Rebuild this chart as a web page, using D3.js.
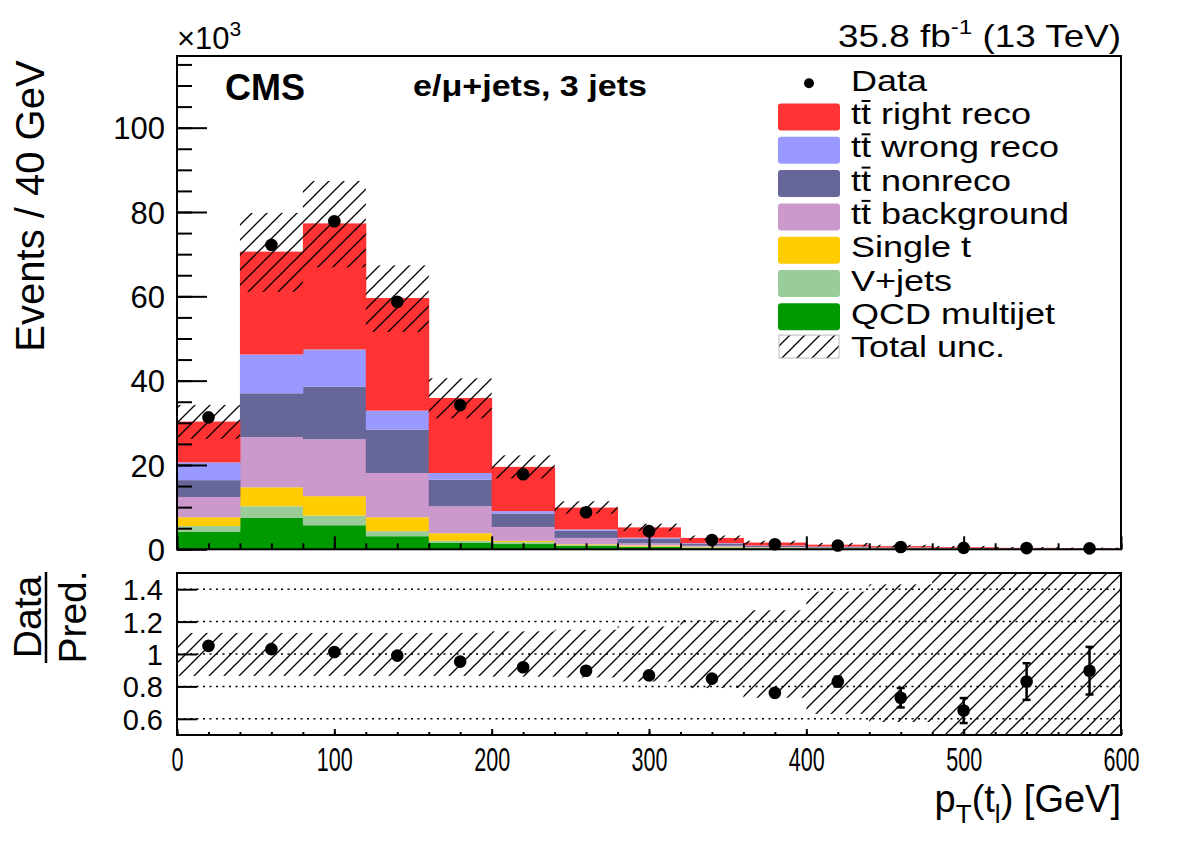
<!DOCTYPE html>
<html><head><meta charset="utf-8">
<script src="https://cdn.jsdelivr.net/npm/d3@7"></script>
<style>
html,body{margin:0;padding:0;background:#fff;}
text{font-family:"Liberation Sans",Arial,Helvetica,sans-serif;fill:#000;}
</style></head>
<body><svg id="c" width="1182" height="848"></svg>
<script>
// ---------- data ----------
const binEdges = [0,40,80,120,160,200,240,280,320,360,400,440,480,520,560,600];
const qcd      = [4.2,7.5,5.7,3.1,1.6,1.25,0.8,0.55,0.35,0.25,0.2,0.15,0.1,0.08,0.06];
const vjets    = [1.3,2.7,2.3,1.2,0.4,0.45,0.2,0.1,0.1,0.05,0.05,0.03,0.02,0.01,0.01];
const singleT  = [2.1,4.5,4.6,3.3,1.8,0.3,0.2,0.25,0.15,0.1,0.05,0.04,0.03,0.02,0.01];
const ttBkg    = [4.8,11.9,13.5,10.5,6.4,3.3,1.5,0.5,0.25,0.15,0.1,0.08,0.05,0.03,0.02];
const ttNon    = [4.0,10.4,12.5,10.3,6.3,3.2,1.7,1.1,0.5,0.3,0.2,0.12,0.08,0.06,0.04];
const ttWrong  = [4.2,9.2,8.8,4.5,1.6,0.55,0.3,0.25,0.1,0.05,0.05,0.03,0.02,0.01,0.01];
const ttRight  = [9.7,24.4,29.9,26.7,17.8,10.5,5.2,2.45,1.25,0.7,0.45,0.3,0.2,0.14,0.1];
const dataVals = [31.3,72.2,77.8,58.7,34.2,17.8,8.8,4.3,2.2,1.2,0.9,0.55,0.33,0.29,0.22];
const ratioVals= [1.05,1.03,1.012,0.99,0.953,0.918,0.897,0.868,0.848,0.76,0.83,0.73,0.651,0.83,0.897];
const ratioErr = [0.004,0.004,0.004,0.004,0.005,0.006,0.008,0.012,0.015,0.02,0.03,0.06,0.077,0.113,0.147];
const bandUp   = [1.13,1.13,1.13,1.13,1.13,1.14,1.15,1.17,1.21,1.27,1.385,1.43,1.6,1.6,1.6];
const bandDown = [0.865,0.865,0.865,0.865,0.865,0.86,0.855,0.83,0.79,0.73,0.63,0.58,0.4,0.4,0.4];
const procKeys   = ["qcd","vjets","singleT","ttBkg","ttNon","ttWrong","ttRight"];
const procColors = ["#009900","#99cc99","#ffcc00","#cc99cc","#666699","#9999ff","#ff3333"];
const xTicks = [0,100,200,300,400,500,600];
const yTicks = [0,20,40,60,80,100];
const rTicks = [0.6,0.8,1,1.2,1.4];

// ---------- setup ----------
const svg = d3.select("#c");
const L=177, R=1121, T=56, B=549.3, RT=573, RB=735;
const x = d3.scaleLinear().domain([0,600]).range([L,R]);
const y = d3.scaleLinear().domain([0,117]).range([B,T]);
const yr = d3.scaleLinear().domain([0.5,1.5]).range([RB,RT]);

const defs = svg.append("defs");
const pat = defs.append("pattern").attr("id","hatch").attr("patternUnits","userSpaceOnUse")
  .attr("width",15).attr("height",15);
pat.append("path").attr("d","M0,15 L15,0 M-4,4 L4,-4 M11,19 L19,11")
  .attr("stroke","#000").attr("stroke-width",1.3);
defs.append("clipPath").attr("id","clipMain").append("rect").attr("x",L).attr("y",T).attr("width",R-L).attr("height",B-T);
defs.append("clipPath").attr("id","clipRatio").append("rect").attr("x",L).attr("y",RT).attr("width",R-L).attr("height",RB-RT);

// stack
const rows = dataVals.map((d,i)=>({i, qcd:qcd[i], vjets:vjets[i], singleT:singleT[i], ttBkg:ttBkg[i], ttNon:ttNon[i], ttWrong:ttWrong[i], ttRight:ttRight[i]}));
const stacked = d3.stack().keys(procKeys)(rows);
const gMain = svg.append("g").attr("clip-path","url(#clipMain)");
stacked.forEach((layer,k)=>{
  gMain.append("g").selectAll("rect").data(layer).join("rect")
    .attr("x",d=>x(binEdges[d.data.i]))
    .attr("width",d=>x(binEdges[d.data.i+1])-x(binEdges[d.data.i])+0.5)
    .attr("y",d=>y(d[1]))
    .attr("height",d=>Math.max(0,y(d[0])-y(d[1])))
    .attr("fill",procColors[k]);
});
const totals = rows.map(r=>procKeys.reduce((s,k)=>s+r[k],0));
gMain.append("g").selectAll("rect").data(totals).join("rect")
  .attr("x",(d,i)=>x(binEdges[i])).attr("width",(d,i)=>x(binEdges[i+1])-x(binEdges[i]))
  .attr("y",(d,i)=>y(d*bandUp[i])).attr("height",(d,i)=>y(d*bandDown[i])-y(d*bandUp[i]))
  .attr("fill","url(#hatch)");
svg.append("g").selectAll("circle").data(dataVals).join("circle")
  .attr("cx",(d,i)=>x((binEdges[i]+binEdges[i+1])/2)).attr("cy",d=>y(d)).attr("r",6.3).attr("fill","#000");

// main axes
const axY = d3.axisLeft(y).tickValues(yTicks).tickSizeInner(-30).tickSizeOuter(0).tickPadding(12).tickFormat(d3.format("d"));
const gy = svg.append("g").attr("transform",`translate(${L},0)`).call(axY);
gy.select(".domain").remove();
gy.selectAll("text").attr("font-size",31).attr("dy","0.36em");
gy.selectAll("line").attr("stroke-width",2);
const gym = svg.append("g").attr("transform",`translate(${L},0)`).call(d3.axisLeft(y).tickValues(d3.range(0,117,5)).tickSizeInner(-15).tickSizeOuter(0).tickFormat(""));
gym.select(".domain").remove(); gym.selectAll("line").attr("stroke-width",2);
function xAxes(yPos, majLen, minLen){
  const a = svg.append("g").attr("transform",`translate(0,${yPos})`).call(d3.axisBottom(x).tickValues(xTicks).tickSizeInner(-majLen).tickSizeOuter(0).tickFormat(""));
  a.select(".domain").remove(); a.selectAll("line").attr("stroke-width",2);
  const b = svg.append("g").attr("transform",`translate(0,${yPos})`).call(d3.axisBottom(x).tickValues(d3.range(0,601,20)).tickSizeInner(-minLen).tickSizeOuter(0).tickFormat(""));
  b.select(".domain").remove(); b.selectAll("line").attr("stroke-width",2);
}
xAxes(B,13,6);
svg.append("rect").attr("x",L).attr("y",T).attr("width",R-L).attr("height",B-T).attr("fill","none").attr("stroke","#000").attr("stroke-width",2);

// ratio panel
const gR = svg.append("g").attr("clip-path","url(#clipRatio)");
gR.append("g").selectAll("rect").data(bandUp).join("rect")
  .attr("x",(d,i)=>x(binEdges[i])).attr("width",(d,i)=>x(binEdges[i+1])-x(binEdges[i]))
  .attr("y",d=>yr(d)).attr("height",(d,i)=>yr(bandDown[i])-yr(d))
  .attr("fill","url(#hatch)");
gR.append("g").selectAll("line").data(rTicks).join("line")
  .attr("x1",L).attr("x2",R).attr("y1",d=>yr(d)).attr("y2",d=>yr(d))
  .attr("stroke","#000").attr("stroke-width",1.5).attr("stroke-dasharray","2,4.5");
const axR = d3.axisLeft(yr).tickValues(rTicks).tickSizeInner(-20).tickSizeOuter(0).tickPadding(14).tickFormat(d=>d3.format("")(d));
const gry = svg.append("g").attr("transform",`translate(${L},0)`).call(axR);
gry.select(".domain").remove(); gry.selectAll("line").attr("stroke-width",2);
gry.selectAll("text").attr("font-size",29).attr("dy","0.36em");
xAxes(RB,6,3);
const gxl = svg.append("g").attr("transform",`translate(0,${RB})`).call(d3.axisBottom(x).tickValues(xTicks).tickSize(0).tickPadding(13).tickFormat(d3.format("d")));
gxl.select(".domain").remove();
gxl.selectAll("text").attr("font-size",33).attr("dy","0.71em")
  .attr("textLength",d=>String(d).length*12).attr("lengthAdjust","spacingAndGlyphs");
const gpts = svg.append("g").attr("clip-path","url(#clipRatio)");
ratioVals.forEach((v,i)=>{
  const cx = x((binEdges[i]+binEdges[i+1])/2);
  const e = ratioErr[i];
  if (yr(v-e)-yr(v+e) > 8){
    gpts.append("line").attr("x1",cx).attr("x2",cx).attr("y1",yr(v+e)).attr("y2",yr(v-e)).attr("stroke","#000").attr("stroke-width",2.5);
    [v+e,v-e].forEach(q=>gpts.append("line").attr("x1",cx-4).attr("x2",cx+4).attr("y1",yr(q)).attr("y2",yr(q)).attr("stroke","#000").attr("stroke-width",2.5));
  }
  gpts.append("circle").attr("cx",cx).attr("cy",yr(v)).attr("r",6.3).attr("fill","#000");
});
svg.append("rect").attr("x",L).attr("y",RT).attr("width",R-L).attr("height",RB-RT).attr("fill","none").attr("stroke","#000").attr("stroke-width",2);

// texts
const t1 = svg.append("text").attr("x",R).attr("y",47).attr("text-anchor","end").attr("font-size",32)
  .attr("textLength",283).attr("lengthAdjust","spacingAndGlyphs");
t1.append("tspan").text("35.8 fb");
t1.append("tspan").attr("dy",-13).attr("font-size",21).text("-1");
t1.append("tspan").attr("dy",13).text(" (13 TeV)");
const t2 = svg.append("text").attr("x",L).attr("y",49).attr("font-size",31);
t2.append("tspan").text("×10");
t2.append("tspan").attr("dy",-13).attr("font-size",21).text("3");
svg.append("text").attr("x",225).attr("y",100).attr("font-size",36).attr("font-weight","bold").text("CMS");
svg.append("text").attr("x",413).attr("y",96).attr("font-size",29).attr("font-weight","bold")
  .attr("textLength",234).attr("lengthAdjust","spacingAndGlyphs").text("e/μ+jets, 3 jets");

// legend
const legLabels = ["Data","tt right reco","tt wrong reco","tt nonreco","tt background","Single t","V+jets","QCD multijet","Total unc."];
const legTT = [false,true,true,true,true,false,false,false,false];
const legColor = [null,"#ff3333","#9999ff","#666699","#cc99cc","#ffcc00","#99cc99","#009900",null];
legLabels.forEach((lab,i)=>{
  const base = 90.7 + i*33.3;
  if (i===0) svg.append("circle").attr("cx",809).attr("cy",base-7.5).attr("r",5).attr("fill","#000");
  else if (i===8) svg.append("rect").attr("x",779).attr("y",base-22).attr("width",60).attr("height",23)
      .attr("fill","url(#hatch)").attr("stroke","#bbb").attr("stroke-width",1);
  else svg.append("rect").attr("x",778).attr("y",base-20.5).attr("width",62).attr("height",27).attr("rx",3)
      .attr("fill",legColor[i]);
  const g = svg.append("g").attr("transform",`translate(851,${base}) scale(1.2,1)`);
  const tx = g.append("text").attr("x",0).attr("y",0).attr("font-size",30).text(lab);
  if (legTT[i]){
    const n = tx.node();
    const x0 = n.getStartPositionOfChar(1).x;
    const w = n.getSubStringLength(1,1);
    g.append("line").attr("x1",x0+0.5).attr("x2",x0+w-0.5).attr("y1",-23).attr("y2",-23)
      .attr("stroke","#000").attr("stroke-width",2);
  }
});

// axis titles
svg.append("text").attr("transform","translate(44,206) rotate(-90)").attr("text-anchor","middle").attr("font-size",40).text("Events / 40 GeV");
svg.append("text").attr("transform","translate(41,617) rotate(-90)").attr("text-anchor","middle").attr("font-size",39).text("Data");
svg.append("line").attr("x1",46).attr("x2",46).attr("y1",572).attr("y2",663).attr("stroke","#000").attr("stroke-width",2.5);
svg.append("text").attr("transform","translate(86,617) rotate(-90)").attr("text-anchor","middle").attr("font-size",39).text("Pred.");
const xt = svg.append("text").attr("x",R).attr("y",812).attr("text-anchor","end").attr("font-size",38);
xt.append("tspan").text("p");
xt.append("tspan").attr("dy",11).attr("font-size",26).text("T");
xt.append("tspan").attr("dy",-11).text("(t");
xt.append("tspan").attr("dy",11).attr("font-size",26).text("l");
xt.append("tspan").attr("dy",-11).text(") [GeV]");
</script></body></html>
